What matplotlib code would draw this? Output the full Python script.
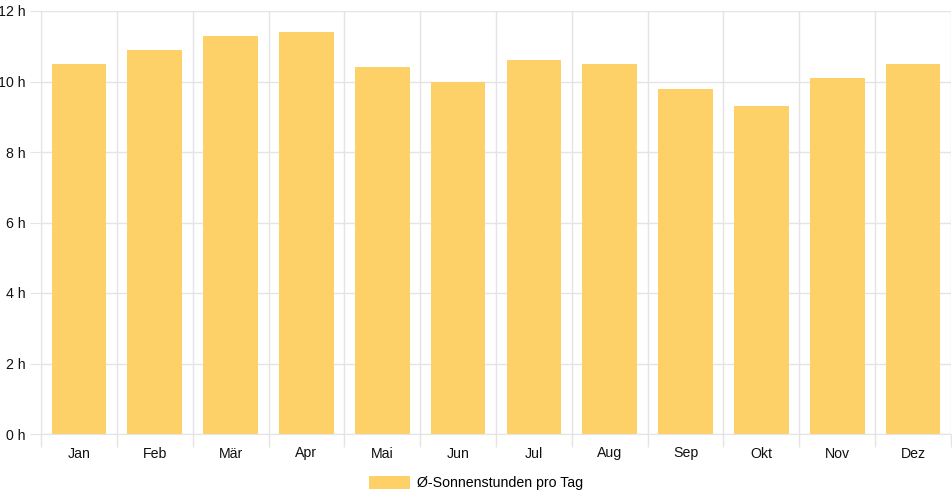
import numpy as np
import matplotlib.pyplot as plt
from matplotlib.patches import Patch

# Sonnenstunden pro Tag (Monatsmittel)
monate = ["Jan", "Feb", "Mär", "Apr", "Mai", "Jun", "Jul", "Aug", "Sep", "Okt", "Nov", "Dez"]
stunden = [10.5, 10.9, 11.3, 11.4, 10.4, 10.0, 10.6, 10.5, 9.8, 9.3, 10.1, 10.5]
y_ticks = [0, 2, 4, 6, 8, 10, 12]

bar_color = "#fed068"
grid_color = "#e4e4e4"

plt.rcParams['font.family'] = ['Liberation Sans', 'DejaVu Sans']

fig = plt.figure(figsize=(9.52, 5.0), dpi=100)
ax = fig.add_axes([41 / 952, 66 / 500, 910 / 952, 423 / 500])

x = np.arange(len(monate))
ax.bar(x, stunden, width=0.72, color=bar_color, zorder=2)

ax.set_xlim(-0.5, len(monate) - 0.5)
ax.set_ylim(0, 12)

# y-Achse
ax.set_yticks(y_ticks)
ax.set_yticklabels([f"{v} h" for v in y_ticks])
ax.tick_params(axis='y', length=8, color=grid_color, labelsize=10.2, pad=3)
ax.yaxis.grid(True, color=grid_color, linewidth=1, zorder=0)

# x-Achse: Labels mittig, Gitter an Kategoriegrenzen
ax.set_xticks(x)
ax.set_xticklabels(monate)
ax.tick_params(axis='x', which='major', length=0, labelsize=10.2, pad=9)
ax.set_xticks(np.arange(-0.5, len(monate)), minor=True)
ax.tick_params(axis='x', which='minor', length=9, color=grid_color, width=1)
ax.xaxis.grid(True, which='minor', color=grid_color, linewidth=1, zorder=0)

for s in ['top', 'right']:
    ax.spines[s].set_visible(False)
ax.spines['left'].set_color(grid_color)
ax.spines['bottom'].set_color(grid_color)

for lab in ax.get_xticklabels() + ax.get_yticklabels():
    lab.set_color("#111111")

handle = Patch(facecolor=bar_color, edgecolor='none')
fig.legend([handle], ["Ø-Sonnenstunden pro Tag"], loc='center', bbox_to_anchor=(0.5, 0.034),
           frameon=False, fontsize=10.2, handlelength=2.9, handleheight=1.0, handletextpad=0.45)

fig.savefig("out.png", dpi=100)
